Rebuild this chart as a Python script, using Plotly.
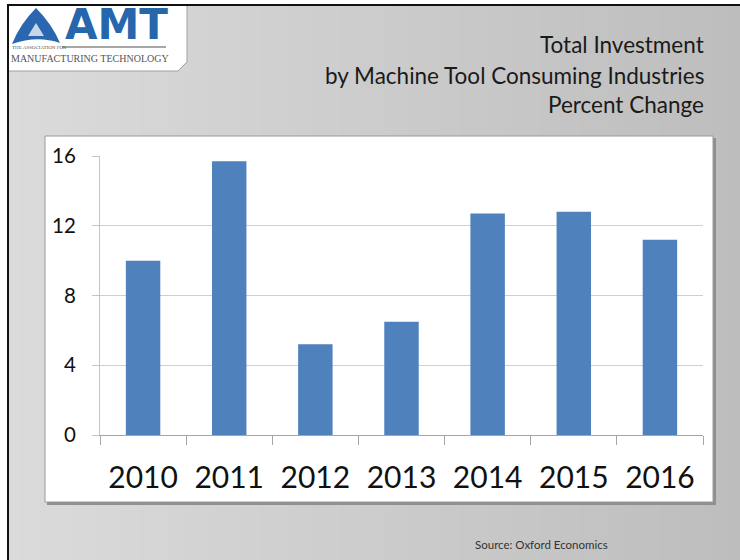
import plotly.graph_objects as go

years = ["2010", "2011", "2012", "2013", "2014", "2015", "2016"]
pct_change = [10.0, 15.7, 5.2, 6.5, 12.7, 12.8, 11.2]
y_ticks = [0, 4, 8, 12, 16]
title_lines = ["Total Investment", "by Machine Tool Consuming Industries", "Percent Change"]
source_text = "Source: Oxford Economics"

FW, FH = 740, 560
L, R, T, B = 100, 37, 156, 125
W = FW - L - R
H = FH - T - B
FONT = "Lato"

def px(x):
    return (x - L) / W

def py(y):
    return 1 - (y - T) / H

fig = go.Figure()
fig.add_trace(go.Bar(x=years, y=pct_change, marker=dict(color="#4f81bd", line=dict(width=0)),
                     hoverinfo="x+y"))

shapes = []
# background gradient
c0 = (219, 219, 219)
c1 = (189, 189, 189)
step = 10
for i in range(0, FW, step):
    t = i / FW
    c = tuple(int(round(c0[k] + (c1[k] - c0[k]) * t)) for k in range(3))
    shapes.append(dict(type="rect", xref="paper", yref="paper", x0=px(i), x1=px(i + step + 1),
                       y0=py(FH + 2), y1=py(-2), fillcolor="rgb(%d,%d,%d)" % c,
                       line=dict(width=0), layer="below"))
# white margin outside slide
shapes.append(dict(type="rect", xref="paper", yref="paper", x0=px(-2), x1=px(8), y0=py(FH + 2), y1=py(-2),
                   fillcolor="white", line=dict(width=0), layer="below"))
shapes.append(dict(type="rect", xref="paper", yref="paper", x0=px(-2), x1=px(FW + 2), y0=py(4), y1=py(-2),
                   fillcolor="white", line=dict(width=0), layer="below"))
# chart box shadow and box
shapes.append(dict(type="rect", xref="paper", yref="paper", x0=px(47), x1=px(716), y0=py(505), y1=py(138),
                   fillcolor="#8f8f8f", line=dict(width=0), layer="below"))
shapes.append(dict(type="rect", xref="paper", yref="paper", x0=px(45), x1=px(713), y0=py(502), y1=py(136),
                   fillcolor="white", line=dict(width=1, color="#9a9a9a"), layer="below"))
# logo box
logo_path = "M %f,%f L %f,%f L %f,%f L %f,%f L %f,%f Z" % (
    px(8), py(5), px(187), py(5), px(187), py(62), px(178), py(71), px(8), py(71))
shapes.append(dict(type="path", xref="paper", yref="paper", path=logo_path, fillcolor="white",
                   line=dict(width=1, color="#a0a0a0"), layer="below"))
# logo icon (stylised swirl)
icon = ("M {a},{b} Q {c},{d} {e},{f} Q {g},{h} {i},{j} Q {k},{l} {a},{b} Z").format(
    a=px(36), b=py(8), c=px(52), d=py(24), e=px(60), f=py(43),
    g=px(37), h=py(35), i=px(12), j=py(44), k=px(20), l=py(24))
shapes.append(dict(type="path", xref="paper", yref="paper", path=icon, fillcolor="#2a67b0",
                   line=dict(width=0), layer="below"))
hole = ("M {a},{b} L {c},{d} L {e},{f} Z").format(a=px(36), b=py(23), c=px(44), d=py(36), e=px(28), f=py(36))
shapes.append(dict(type="path", xref="paper", yref="paper", path=hole, fillcolor="#c9d6e6",
                   line=dict(width=0), layer="below"))
shapes.append(dict(type="line", xref="paper", yref="paper", x0=px(62), x1=px(166), y0=py(47), y1=py(47),
                   line=dict(width=1.5, color="#8a8a8a"), layer="below"))
# slide border
shapes.append(dict(type="line", xref="paper", yref="paper", x0=px(8), x1=px(8), y0=py(5), y1=py(FH + 5),
                   line=dict(width=2, color="#111111"), layer="above"))
shapes.append(dict(type="line", xref="paper", yref="paper", x0=px(7), x1=px(FW + 5), y0=py(5), y1=py(5),
                   line=dict(width=2, color="#111111"), layer="above"))

annotations = []
ys = [45, 75, 104]
for line, yy in zip(title_lines, ys):
    annotations.append(dict(text=line, xref="paper", yref="paper", x=px(706), y=py(yy),
                            xanchor="right", yanchor="middle", showarrow=False,
                            font=dict(family=FONT, size=22.5, color="#1a1a1a")))
annotations.append(dict(text=source_text, xref="paper", yref="paper", x=px(473), y=py(544),
                        xanchor="left", yanchor="middle", showarrow=False,
                        font=dict(family=FONT, size=11.5, color="#333333")))
annotations.append(dict(text="<b>AMT</b>", xref="paper", yref="paper", x=px(116), y=py(24),
                        xanchor="center", yanchor="middle", showarrow=False,
                        font=dict(family="DejaVu Sans", size=42, color="#2566ad")))
annotations.append(dict(text="THE ASSOCIATION FOR", xref="paper", yref="paper", x=px(10), y=py(47),
                        xanchor="left", yanchor="middle", showarrow=False,
                        font=dict(family="Liberation Serif", size=5, color="#555555")))
annotations.append(dict(text="MANUFACTURING TECHNOLOGY", xref="paper", yref="paper", x=px(9), y=py(58),
                        xanchor="left", yanchor="middle", showarrow=False,
                        font=dict(family="Liberation Serif", size=10, color="#555555")))

fig.update_layout(
    width=FW, height=FH,
    margin=dict(l=L, r=R, t=T, b=B, pad=0),
    paper_bgcolor="#cccccc", plot_bgcolor="white",
    showlegend=False, bargap=0.6,
    shapes=shapes, annotations=annotations,
    xaxis=dict(type="category", showgrid=False, showline=True, linecolor="#a6a6a6", linewidth=1,
               ticks="outside", tickson="boundaries", ticklen=9, tickcolor="#a6a6a6",
               tickfont=dict(family=FONT, size=30, color="#111111"), ticklabelstandoff=16,
               fixedrange=True),
    yaxis=dict(range=[0, 16], tickvals=y_ticks, showgrid=True, gridcolor="#cfcfcf", gridwidth=1,
               showline=True, linecolor="#c4c4c4", zeroline=False,
               ticks="outside", ticklen=7, tickcolor="#c4c4c4",
               tickfont=dict(family=FONT, size=20.5, color="#111111"), ticklabelstandoff=12,
               fixedrange=True),
)

fig.write_html("out.html", config={"displayModeBar": False},
               post_script="document.body.style.margin='0';document.body.style.overflow='hidden';")
